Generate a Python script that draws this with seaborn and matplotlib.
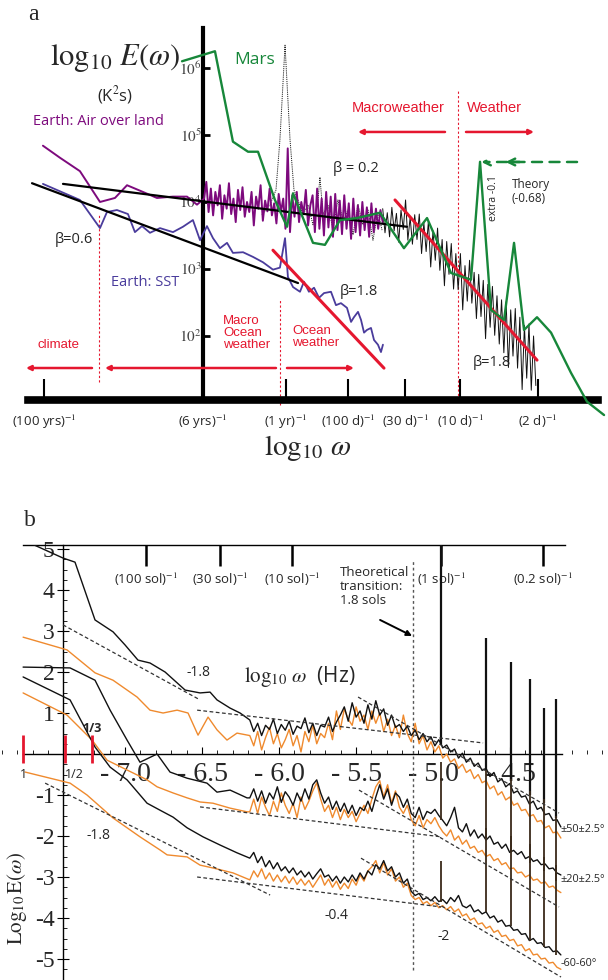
import numpy as np
import matplotlib
matplotlib.use("Agg")
import matplotlib.pyplot as plt
from matplotlib.ticker import MultipleLocator
import seaborn as sns

# ---------------- panel a data (x = log10 omega, y = log10 E) ----------------
mars_x = [-8.310, -8.026, -7.871, -7.741, -7.655, -7.509, -7.405, -7.353, -7.181,
          -7.078, -6.948, -6.802, -6.603, -6.397, -6.198, -5.991, -5.819, -5.741,
          -5.647, -5.534, -5.448, -5.362, -5.250, -5.129, -4.957, -4.819, -4.672]
mars_y = [6.10, 6.25, 4.90, 4.75, 4.75, 4.03, 3.63, 4.13, 3.39, 3.36, 3.73, 3.76,
          3.84, 3.31, 3.76, 2.94, 2.84, 4.60, 2.39, 2.24, 3.39, 2.09, 2.28, 2.05,
          1.45, 1.02, 0.82]

air_low_x = [-9.509, -9.362, -9.190, -9.017, -8.888, -8.784, -8.647, -8.526,
             -8.388, -8.267, -8.181]
air_low_y = [4.84, 4.66, 4.46, 4.00, 4.06, 4.25, 4.15, 4.06, 4.08, 4.08, 3.96]
air_high_y = [4.05, 4.30, 3.85, 4.20, 3.80, 4.15, 3.95, 4.25, 3.75, 4.10,
              3.90, 4.28, 3.82, 4.05, 3.70, 4.18, 3.88, 4.22, 3.78, 4.00,
              3.85, 4.15, 3.65, 4.08, 3.90, 4.25, 3.72, 4.02, 3.86, 4.20,
              3.80, 3.98, 3.68, 4.12, 3.85, 4.05, 3.60, 4.80, 3.55, 4.10,
              3.78, 4.15, 3.70, 4.00, 3.82, 4.18, 3.65, 3.95, 4.10, 3.55,
              4.20, 3.60, 4.05, 3.50, 4.15, 3.62, 4.08, 3.48, 4.12, 3.58,
              4.02, 3.52, 4.10, 3.60, 3.98, 3.45, 4.05, 3.55, 3.95, 3.50,
              4.00, 3.58, 3.92, 3.48, 3.98, 3.55, 3.90, 3.60, 3.88, 3.70]
air_high_x = np.linspace(-8.12, -6.58, len(air_high_y))

sst_x = [-9.509, -9.190, -9.017, -8.957, -8.871, -8.776, -8.716, -8.655, -8.586,
         -8.500, -8.388, -8.302, -8.216, -8.155, -8.095, -8.043, -7.983, -7.922,
         -7.871, -7.784, -7.698, -7.612, -7.526, -7.466, -7.422, -7.397, -7.353,
         -7.293, -7.259, -7.216, -7.172, -7.129, -7.086, -7.026, -6.983, -6.940,
         -6.888, -6.853, -6.828, -6.793, -6.767, -6.741, -6.716, -6.681, -6.655,
         -6.621, -6.595, -6.578]
sst_y = [4.27, 4.03, 3.61, 3.85, 3.88, 3.82, 3.55, 3.64, 3.54, 3.61, 3.55, 3.63,
         3.73, 3.43, 3.64, 3.46, 3.31, 3.39, 3.24, 3.25, 3.18, 3.10, 2.99, 3.02,
         3.46, 2.88, 2.73, 2.66, 2.81, 2.66, 2.72, 2.57, 2.64, 2.66, 2.46, 2.49,
         2.42, 2.21, 2.28, 2.36, 2.24, 2.05, 2.09, 2.12, 1.94, 1.87, 1.76, 1.87]

daily_thin_x = [-7.621, -7.552, -7.500, -7.466, -7.422, -7.379, -7.345, -7.310,
                -7.267, -7.224, -7.181, -7.138, -7.121, -7.095, -7.052, -7.009,
                -6.966, -6.922, -6.879, -6.836, -6.793, -6.750, -6.707, -6.664,
                -6.621, -6.586]
daily_thin_y = [3.81, 3.96, 4.18, 4.93, 6.34, 4.93, 4.18, 4.03, 3.81, 3.96, 3.66,
                4.03, 4.37, 3.81, 3.96, 3.58, 4.03, 3.73, 3.88, 3.51, 3.96, 3.66,
                3.88, 3.43, 3.85, 3.58]
daily_y = [3.90, 3.54, 3.84, 3.48, 3.92, 3.57, 3.83, 3.40, 3.88, 3.59,
           4.03, 3.43, 3.77, 3.37, 3.81, 3.44, 3.82, 3.23, 3.69, 3.26,
           3.72, 3.03, 3.57, 3.13, 3.61, 2.98, 3.44, 2.75, 3.41, 2.92,
           3.38, 2.70, 3.23, 2.69, 3.23, 2.39, 3.05, 2.52, 3.13, 2.49,
           2.95, 2.26, 2.92, 2.29, 2.83, 1.96, 2.77, 2.13, 2.74, 2.01,
           2.60, 1.88, 2.54, 1.75, 2.51, 1.53, 2.39, 1.70, 2.41, 1.52,
           2.28, 1.20, 2.16, 1.37, 2.18, 1.19, 2.00, 1.26]
daily_x = np.linspace(-6.58, -5.26, len(daily_y))

fit02 = ([-9.336, -6.371], [4.27, 3.63])
fit06 = ([-9.603, -7.310], [4.28, 2.79])
fit_sst = ([-7.526, -6.569], [3.28, 1.52])
fit_air = ([-6.474, -5.250], [4.03, 1.64])

a_ticks = [-9.5, -8.129, -7.414, -6.879, -6.388, -5.914, -5.241]
a_tick_labels = ["(100 yrs)$^{-1}$", "(6 yrs)$^{-1}$", "(1 yr)$^{-1}$",
                 "(100 d)$^{-1}$", "(30 d)$^{-1}$", "(10 d)$^{-1}$", "(2 d)$^{-1}$"]
a_yticks = [2, 3, 4, 5, 6]

# ---------------- panel b data (x = log10 omega [Hz], y = log10 E) ----------------
lf_black_50_x = [-7.662, -7.403, -7.325, -7.195, -7.078, -7.0, -6.916, -6.838,
                 -6.740, -6.610, -6.513, -6.448, -6.403, -6.318, -6.253]
lf_black_50_y = [5.22, 4.78, 4.68, 3.27, 2.98, 2.66, 2.29, 2.22, 2.00, 1.56,
                 1.49, 1.51, 1.32, 1.12, 1.00]
lf_orange_50_x = [-7.662, -7.377, -7.195, -7.078, -6.922, -6.838, -6.753, -6.662,
                  -6.591, -6.526, -6.461, -6.403, -6.338, -6.273]
lf_orange_50_y = [2.85, 2.54, 1.98, 1.80, 1.39, 1.07, 1.00, 1.07, 1.00, 0.46,
                  0.90, 0.59, 0.34, 0.51]
lf_black_20_x = [-7.662, -7.357, -7.195, -7.097, -6.987, -6.903, -6.792, -6.708,
                 -6.597, -6.468, -6.403, -6.318, -6.208]
lf_black_20_y = [2.12, 2.10, 1.80, 1.07, 0.34, -0.20, 0.00, -0.44, -0.59, -0.71,
                 -0.93, -0.88, -1.07]
lf_orange_20_x = [-7.662, -7.377, -7.214, -7.117, -6.987, -6.857, -6.792, -6.688,
                  -6.597, -6.513, -6.429, -6.318, -6.208]
lf_orange_20_y = [1.49, 0.95, 0.34, -0.15, -0.39, -0.63, -0.80, -0.95, -1.07,
                  -1.17, -1.20, -1.32, -1.41]
lf_black_60_x = [-7.662, -7.357, -7.195, -7.097, -6.987, -6.857, -6.773, -6.688,
                 -6.597, -6.494, -6.383, -6.273]
lf_black_60_y = [1.88, 1.32, 0.17, -0.32, -0.63, -1.20, -1.37, -1.54, -1.80,
                 -2.02, -2.22, -2.41]
lf_orange_60_x = [-7.649, -7.357, -7.247, -7.078, -6.903, -6.773, -6.727, -6.597,
                  -6.513, -6.429, -6.299]
lf_orange_60_y = [-0.44, -0.71, -1.00, -1.56, -2.02, -2.34, -2.46, -2.51, -2.71,
                  -2.78, -2.90]

hf_black_50 = [0.83, 0.55, 0.75, 0.45, 0.70, 0.60, 0.85, 0.50, 0.72, 0.58,
               0.80, 0.48, 0.68, 0.62, 0.88, 0.52, 0.75, 0.45, 0.70, 0.66,
               0.90, 0.55, 0.78, 0.95, 1.15, 0.80, 1.25, 0.90, 1.05, 0.75,
               1.20, 0.85, 1.30, 0.95, 1.10, 0.70, 0.95, 0.65, 0.72, 0.55,
               0.68, 0.45, 0.58, 0.35, 0.50, 0.30, 0.42, 0.20, 0.35, 0.15,
               0.22, 0.05, 0.12, -0.10, 0.02, -0.20, -0.10, -0.30, -0.22, -0.40,
               -0.35, -0.55, -0.45, -0.68, -0.60, -0.80, -0.72, -0.95, -0.90, -1.05,
               -1.02, -1.22, -1.15, -1.35, -1.30, -1.48, -1.45, -1.62, -1.60, -1.78]
hf_orange_50 = [0.45, 0.20, 0.55, 0.10, 0.40, 0.65, 0.25, 0.50, 0.15, 0.35,
                0.60, 0.20, 0.45, 0.05, 0.55, 0.30, 0.70, 0.25, 0.50, 0.40,
                0.75, 0.35, 1.05, 0.60, 1.10, 0.85, 0.70, 1.15, 0.80, 0.95,
                0.60, 1.05, 0.75, 1.00, 0.55, 0.85, 0.45, 0.70, 0.40, 0.95,
                0.50, 0.30, 0.75, 0.25, 0.45, 0.10, 0.30, 0.05, 0.20, -0.10,
                0.00, -0.20, -0.12, -0.35, -0.25, -0.45, -0.38, -0.60, -0.50, -0.70,
                -0.65, -0.85, -0.78, -1.00, -0.92, -1.12, -1.05, -1.25, -1.20, -1.38,
                -1.35, -1.52, -1.48, -1.65, -1.62, -1.80, -1.75, -1.92, -1.90, -2.05]
hf_black_20 = [-1.07, -0.85, -1.15, -0.90, -1.20, -0.95, -1.10, -0.80, -1.18, -0.92,
               -1.05, -1.25, -0.95, -1.15, -0.85, -1.10, -0.75, -0.63, -0.95, -1.20,
               -1.05, -1.35, -1.15, -1.40, -1.20, -1.45, -1.25, -1.50, -1.30, -1.38,
               -1.15, -1.40, -1.05, -0.75, -1.10, -0.85, -1.25, -0.95, -1.05, -1.30,
               -1.10, -1.45, -1.55, -1.30, -1.60, -1.40, -1.45, -1.35, -1.50, -1.62,
               -1.75, -1.55, -1.30, -1.80, -1.90, -1.70, -2.00, -1.85, -2.05, -1.95,
               -2.10, -2.00, -2.20, -2.15, -2.30, -2.20, -2.40, -2.35, -2.45, -2.38,
               -2.55, -2.50, -2.62, -2.58, -2.70, -2.68, -2.80, -2.78, -2.90, -2.95]
hf_orange_20 = [-1.41, -1.10, -1.45, -1.05, -1.30, -1.50, -1.15, -1.40, -0.95, -1.25,
                -1.45, -1.20, -1.55, -1.05, -1.35, -1.15, -0.90, -0.70, -1.10, -1.40,
                -1.25, -1.55, -1.30, -1.60, -1.35, -1.55, -1.40, -1.65, -1.45, -1.25,
                -1.45, -1.10, -0.80, -0.65, -1.05, -0.75, -1.20, -0.90, -1.30, -1.45,
                -1.25, -1.60, -1.75, -1.50, -1.80, -1.60, -1.70, -1.55, -1.75, -1.90,
                -2.00, -1.85, -2.10, -2.00, -2.20, -2.10, -2.30, -2.25, -2.40, -2.35,
                -2.50, -2.45, -2.60, -2.55, -2.70, -2.65, -2.80, -2.78, -2.90, -2.88,
                -3.00, -2.95, -3.08, -3.05, -3.15, -3.12, -3.25, -3.22, -3.32, -3.38]
hf_black_60 = [-2.54, -2.40, -2.65, -2.50, -2.75, -2.60, -2.80, -2.65, -2.85, -2.75,
               -2.90, -2.78, -2.95, -2.85, -3.00, -2.88, -3.05, -2.92, -2.80, -3.00,
               -2.95, -3.10, -2.98, -3.15, -3.00, -3.12, -2.95, -3.10, -2.90, -3.05,
               -2.85, -2.95, -2.70, -2.80, -2.60, -2.85, -2.75, -3.00, -2.90, -3.15,
               -3.05, -3.35, -3.45, -3.40, -3.55, -3.50, -3.58, -3.48, -3.60, -3.55,
               -3.65, -3.50, -3.60, -3.45, -3.70, -3.75, -3.68, -3.85, -3.80, -3.90,
               -3.85, -4.00, -3.95, -4.10, -4.05, -4.20, -4.18, -4.30, -4.28, -4.40,
               -4.38, -4.55, -4.50, -4.62, -4.60, -4.72, -4.70, -4.82, -4.80, -4.90]
hf_orange_60 = [-3.07, -2.85, -3.00, -2.80, -3.05, -2.90, -3.10, -2.95, -3.12, -2.98,
                -3.15, -3.00, -3.18, -3.05, -3.20, -3.08, -3.25, -3.10, -2.95, -3.20,
                -3.05, -3.25, -3.10, -3.30, -3.15, -3.28, -3.05, -3.20, -2.95, -3.10,
                -2.85, -2.75, -2.60, -2.90, -2.65, -2.95, -2.80, -3.10, -3.00, -3.25,
                -3.15, -3.45, -3.55, -3.50, -3.65, -3.60, -3.70, -3.62, -3.75, -3.70,
                -3.80, -3.72, -3.85, -3.78, -3.95, -3.90, -4.05, -4.00, -4.15, -4.12,
                -4.25, -4.20, -4.35, -4.30, -4.45, -4.42, -4.55, -4.52, -4.68, -4.65,
                -4.80, -4.75, -4.90, -4.88, -5.00, -4.98, -5.10, -5.08, -5.20, -5.25]
hf_x = np.linspace(-6.19, -4.17, len(hf_black_50))

# diurnal harmonics (sharp peaks)
spike_x = [-4.948, -4.656, -4.494, -4.370, -4.279, -4.201]
spike_base_50 = [0.22, -0.40, -0.65, -1.00, -1.20, -1.55]
spike_top_50 = [5.10, 2.83, 2.24, 1.83, 1.12, 1.34]
spike_base_20 = [-1.60, -2.05, -2.40, -2.65, -2.85, -3.10]
spike_top_20 = [-0.20, -0.40, -0.60, -0.90, -1.10, -1.50]
spike_base_60 = [-3.60, -3.85, -4.20, -4.55, -4.70, -4.90]
spike_top_60 = [-2.60, -1.80, -2.00, -2.20, -2.50, -2.70]

fits_b = [([-7.403, -6.513], [3.15, 1.32]),
          ([-6.532, -4.675], [1.07, 0.27]),
          ([-5.487, -4.182], [1.39, -1.44]),
          ([-6.513, -4.948], [-1.29, -2.02]),
          ([-5.481, -4.182], [-0.88, -3.73]),
          ([-7.519, -6.058], [-0.71, -3.44]),
          ([-6.532, -4.948], [-3.00, -3.73]),
          ([-5.468, -4.169], [-2.54, -5.44])]

sol_ticks = [-6.864, -6.383, -5.916, -4.948, -4.286]
sol_labels = ["(100 sol)$^{-1}$", "(30 sol)$^{-1}$", "(10 sol)$^{-1}$",
              "(1 sol)$^{-1}$", "(0.2 sol)$^{-1}$"]
b_xticks = [-7.0, -6.5, -6.0, -5.5, -5.0, -4.5]
b_yticks = [-5, -4, -3, -2, -1, 1, 2, 3, 4, 5]
ratio_x = [-7.662, -7.390, -7.214]
ratio_labels = ["1", "1/2", "1/3"]
band_labels = ["±50±2.5°", "±20±2.5°", "-60-60°"]
band_label_y = [-1.83, -3.07, -5.10]

RED = "#e5172f"
PURPLE = "#7d0a7d"
SST_BLUE = "#4a3c9c"
GREEN = "#17873a"
ORANGE = "#ef8a2e"
SERIF = "Liberation Serif"

sns.set_theme(style="white")
plt.rcParams["font.family"] = ["Open Sans", "DejaVu Sans"]
plt.rcParams["mathtext.fontset"] = "stix"
plt.rcParams["axes.unicode_minus"] = False


def line(ax, x, y, **kw):
    sns.lineplot(x=np.asarray(x), y=np.asarray(y), ax=ax, sort=False,
                 estimator=None, **kw)


fig = plt.figure(figsize=(6.08, 9.8), dpi=100)

# ======================= panel a =======================
axa = fig.add_axes([0, 1 - 420 / 980, 1, 400 / 980])
axa.set_xlim(-9.879, -4.638)
axa.set_ylim(0.746, 6.716)

line(axa, daily_thin_x, daily_thin_y, color="#222", lw=0.7, ls=(0, (1.2, 1)), zorder=2)
line(axa, np.concatenate([air_low_x, air_high_x]), np.concatenate([air_low_y, air_high_y]),
     color=PURPLE, lw=1.4, zorder=3)
line(axa, sst_x, sst_y, color=SST_BLUE, lw=1.3, zorder=3)
line(axa, daily_x, daily_y, color="#111", lw=0.7, zorder=3)
line(axa, *fit02, color="black", lw=1.6, zorder=4)
line(axa, *fit06, color="black", lw=1.6, zorder=4)
line(axa, *fit_sst, color=RED, lw=2.2, zorder=5)
line(axa, *fit_air, color=RED, lw=2.2, zorder=5)
line(axa, mars_x, mars_y, color=GREEN, lw=1.7, zorder=6)

for s in ["top", "right"]:
    axa.spines[s].set_visible(False)
axa.spines["left"].set_position(("data", -8.129))
axa.spines["left"].set_bounds(1.045, 6.6)
axa.spines["left"].set_linewidth(3)
axa.spines["left"].set_color("black")
axa.spines["bottom"].set_position(("data", 1.045))
axa.spines["bottom"].set_bounds(-9.64, -4.72)
axa.spines["bottom"].set_linewidth(5.5)
axa.spines["bottom"].set_color("black")
axa.set_xticks(a_ticks, a_tick_labels)
axa.tick_params(axis="x", bottom=True, direction="in", length=15, width=1.5,
                pad=9, labelsize=9.5, color="black")
axa.set_yticks(a_yticks, [f"$10^{{{v}}}$" for v in a_yticks])
axa.tick_params(axis="y", left=True, direction="in", length=5, width=2, pad=1,
                labelsize=11, labelcolor="#444", color="black")
axa.set_xlabel("")
axa.set_ylabel("")

# red dotted separators
axa.vlines([-5.931], 1.045, 5.67, colors=RED, lw=0.8, linestyles=(0, (2, 2)))
axa.vlines([-9.026], 1.31, 3.81, colors=RED, lw=0.8, linestyles=(0, (2, 2)))
axa.vlines([-7.466], 0.97, 2.54, colors=RED, lw=0.8, linestyles=(0, (2, 2)))

arrow_red = dict(arrowstyle="-|>", color=RED, lw=1.8, mutation_scale=7,
                 shrinkA=0, shrinkB=0)
axa.annotate("", xy=(-6.793, 5.045), xytext=(-6.043, 5.045), arrowprops=arrow_red)
axa.annotate("", xy=(-5.276, 5.045), xytext=(-5.862, 5.045), arrowprops=arrow_red)
axa.annotate("", xy=(-9.655, 1.522), xytext=(-9.086, 1.522), arrowprops=arrow_red)
axa.annotate("", xy=(-8.974, 1.522), xytext=(-7.500, 1.522), arrowprops=arrow_red)
axa.annotate("", xy=(-6.828, 1.522), xytext=(-7.405, 1.522), arrowprops=arrow_red)

arrow_green = dict(arrowstyle="->", color=GREEN, lw=1.8, ls=(0, (4, 3)),
                   shrinkA=0, shrinkB=0)
axa.annotate("", xy=(-5.73, 4.597), xytext=(-4.905, 4.597), arrowprops=arrow_green)
axa.annotate("", xy=(-5.52, 4.597), xytext=(-5.40, 4.597),
             arrowprops=dict(arrowstyle="->", color=GREEN, lw=1.8, shrinkA=0, shrinkB=0))

axa.text(-7.681, 6.119, "Mars", color=GREEN, fontsize=12.5, ha="center", va="center")
axa.text(-9.034, 5.194, "Earth: Air over land", color=PURPLE, fontsize=10.5,
         ha="center", va="center")
axa.text(-8.629, 2.791, "Earth: SST", color=SST_BLUE, fontsize=10.5, ha="center", va="center")
axa.text(-6.448, 5.403, "Macroweather", color=RED, fontsize=10.5, ha="center", va="center",
         family="Liberation Sans")
axa.text(-5.621, 5.403, "Weather", color=RED, fontsize=10.5, ha="center", va="center",
         family="Liberation Sans")
axa.text(-9.371, 1.866, "climate", color=RED, fontsize=9.5, ha="center", va="center",
         family="Liberation Sans")
axa.text(-7.957, 2.045, "Macro\nOcean\nweather", color=RED, fontsize=9.5, ha="left",
         va="center", linespacing=1.0, family="Liberation Sans")
axa.text(-7.362, 1.985, "Ocean\nweather", color=RED, fontsize=9.5, ha="left",
         va="center", linespacing=1.0, family="Liberation Sans")
axa.text(-6.810, 4.493, "β = 0.2", fontsize=10.5, ha="center", va="center")
axa.text(-9.241, 3.433, "β=0.6", fontsize=10.5, ha="center", va="center")
axa.text(-6.784, 2.657, "β=1.8", fontsize=10.5, ha="center", va="center")
axa.text(-5.638, 1.597, "β=1.8", fontsize=10.5, ha="center", va="center")
axa.text(-5.466, 4.149, "Theory\n(-0.68)", fontsize=8.5, ha="left", va="center",
         linespacing=1.1)
axa.text(-5.621, 4.06, "extra -0.1", fontsize=7.5, ha="center", va="center", rotation=90)

fig.text(33 / 608, 1 - 15 / 980, "a", family=SERIF, fontsize=17, ha="center", va="center")
fig.text(115 / 608, 1 - 58 / 980, r"$\log_{10}\,E(\omega)$", fontsize=22,
         ha="center", va="center")
fig.text(115 / 608, 1 - 95 / 980, "(K$^2$s)", fontsize=12, ha="center", va="center")
fig.text(308 / 608, 1 - 448 / 980, r"$\log_{10}\,\omega$", fontsize=21,
         ha="center", va="center")

# ======================= panel b =======================
axb = fig.add_axes([0, 0, 1, 435 / 980])
axb.set_xlim(-7.812, -3.864)
axb.set_ylim(-5.512, 5.098)

for xs, ys in fits_b:
    line(axb, xs, ys, color="#333", lw=0.9, ls=(0, (3, 2)), zorder=4)

line(axb, np.concatenate([lf_orange_50_x, hf_x]), np.concatenate([lf_orange_50_y, hf_orange_50]),
     color=ORANGE, lw=1.0, zorder=3)
line(axb, np.concatenate([lf_orange_20_x, hf_x]), np.concatenate([lf_orange_20_y, hf_orange_20]),
     color=ORANGE, lw=1.0, zorder=3)
line(axb, np.concatenate([lf_orange_60_x, hf_x]), np.concatenate([lf_orange_60_y, hf_orange_60]),
     color=ORANGE, lw=1.0, zorder=3)
line(axb, np.concatenate([lf_black_50_x, hf_x]), np.concatenate([lf_black_50_y, hf_black_50]),
     color="#111", lw=1.0, zorder=3.2)
line(axb, np.concatenate([lf_black_20_x, hf_x]), np.concatenate([lf_black_20_y, hf_black_20]),
     color="#111", lw=1.0, zorder=3.2)
line(axb, np.concatenate([lf_black_60_x, hf_x]), np.concatenate([lf_black_60_y, hf_black_60]),
     color="#111", lw=1.0, zorder=3.2)

axb.vlines(spike_x, spike_base_50, spike_top_50, colors="#111", lw=1.6, zorder=3.3)
axb.vlines(spike_x, spike_base_20, spike_top_20, colors="#3a2a1a", lw=1.3, zorder=3.3)
axb.vlines(spike_x, spike_base_60, spike_top_60, colors="#3a2a1a", lw=1.3, zorder=3.3)

axb.vlines(ratio_x, -0.22, 0.46, colors=RED, lw=2, zorder=5)
for xr, lab, yr in zip(ratio_x, ratio_labels, [-0.51, -0.51, 0.62]):
    axb.text(xr + (0.06 if lab == "1/2" else 0.0), yr, lab, fontsize=9, ha="center",
             va="center", fontweight="bold" if lab == "1/3" else "normal")

axb.vlines([-5.13], -5.27, 4.73, colors="#555", lw=1.0, linestyles=(0, (2, 2)), zorder=2)

axb.spines["right"].set_visible(False)
for s in ["left", "bottom", "top"]:
    axb.spines[s].set_color("black")
    axb.spines[s].set_linewidth(1.0)
axb.spines["left"].set_position(("data", -7.403))
axb.spines["left"].set_bounds(-5.51, 5.098)
axb.spines["bottom"].set_position(("data", 0))
axb.spines["bottom"].set_bounds(-7.662, -4.162)
axb.spines["top"].set_bounds(-7.662, -4.143)

axb.set_xticks(b_xticks, [f"- {abs(v):.1f}" for v in b_xticks], fontfamily=SERIF)
axb.xaxis.set_minor_locator(MultipleLocator(0.1))
axb.tick_params(axis="x", which="major", bottom=True, top=False, direction="in",
                length=5, width=0.8, pad=6, labelsize=20, color="black")
axb.tick_params(axis="x", which="minor", bottom=True, top=False, direction="in",
                length=3, width=0.6, color="black")
axb.set_yticks(b_yticks, [str(v) for v in b_yticks], fontfamily=SERIF)
axb.yaxis.set_minor_locator(MultipleLocator(0.25))
axb.tick_params(axis="y", which="major", left=True, direction="inout", length=8,
                width=0.8, pad=2, labelsize=17, color="black")
axb.tick_params(axis="y", which="minor", left=True, direction="in", length=3,
                width=0.6, color="black")
axb.set_xlabel("")
axb.set_ylabel("")

sec = axb.secondary_xaxis("top")
sec.set_xticks(sol_ticks, sol_labels)
sec.tick_params(axis="x", top=True, labeltop=True, direction="in", length=15,
                width=1.8, pad=-31, labelsize=9.5, color="black")
for sp in sec.spines.values():
    sp.set_visible(False)

for lab, yl in zip(band_labels, band_label_y):
    axb.text(-4.175, yl, lab, fontsize=7.8, ha="left", va="center")
axb.text(-6.526, 1.98, "-1.8", fontsize=10, ha="center", va="center")
axb.text(-7.175, -1.98, "-1.8", fontsize=10, ha="center", va="center")
axb.text(-5.630, -3.93, "-0.4", fontsize=10, ha="center", va="center")
axb.text(-4.929, -4.46, "-2", fontsize=10, ha="center", va="center")
axb.text(-5.864, 1.88, r"$\log_{10}\,\omega$  (Hz)", fontsize=15, ha="center", va="center")
axb.text(-5.604, 4.585, "Theoretical\ntransition:\n1.8 sols", fontsize=9.5,
         ha="left", va="top", linespacing=1.1)
axb.annotate("", xy=(-5.136, 2.88), xytext=(-5.344, 3.27),
             arrowprops=dict(arrowstyle="-|>", color="black", lw=1.4,
                             mutation_scale=8, shrinkA=0, shrinkB=0))

fig.text(30 / 608, 1 - 520 / 980, "b", family=SERIF, fontsize=17, ha="center", va="center")
fig.text(17 / 608, 1 - 898 / 980, r"$\mathrm{Log}_{10}\,\mathrm{E}(\omega)$",
         fontsize=15, rotation=90, ha="center", va="center")

fig.savefig("out.png", dpi=100)
